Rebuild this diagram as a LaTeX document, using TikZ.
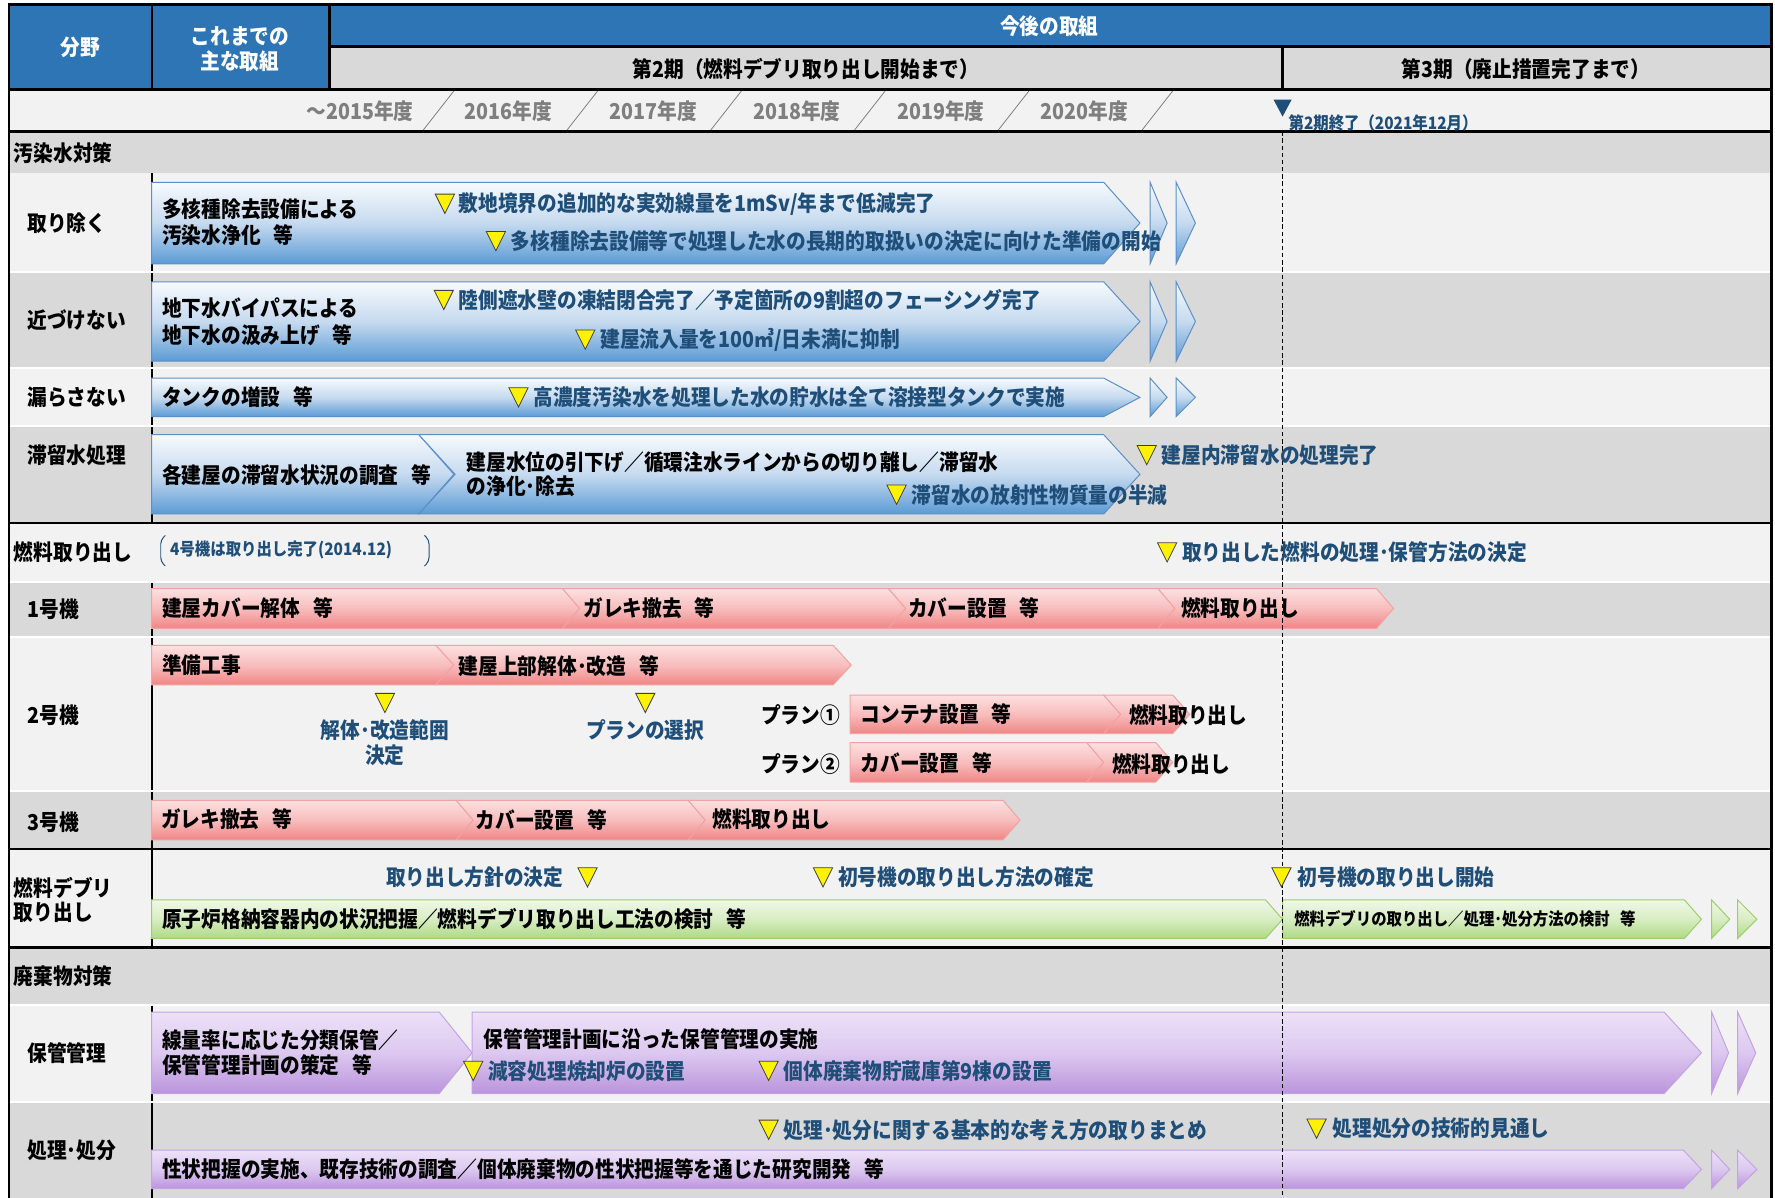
\documentclass[tikz,border=0pt]{standalone}
\usepackage{fontspec}
\setmainfont{Noto Sans CJK JP}[FakeStretch=0.9]
\usetikzlibrary{calc}
\definecolor{hdrblue}{HTML}{2E75B6}
\definecolor{grayrow}{HTML}{D9D9D9}
\definecolor{lightrow}{HTML}{F2F2F2}
\definecolor{msblue}{HTML}{1F4E79}
\definecolor{yeargray}{HTML}{7F7F7F}
\definecolor{bluetop}{HTML}{F7FAFD}
\definecolor{bluemid}{HTML}{C6DAEF}
\definecolor{bluebot}{HTML}{5B9BD5}
\definecolor{blueline}{HTML}{5B8FC8}
\definecolor{redtop}{HTML}{FCE0E0}
\definecolor{redmid}{HTML}{F8BDBD}
\definecolor{redbot}{HTML}{F08585}
\definecolor{redline}{HTML}{F2A2A2}
\definecolor{greentop}{HTML}{EFF8E7}
\definecolor{greenmid}{HTML}{D8EDC3}
\definecolor{greenbot}{HTML}{AEDA84}
\definecolor{greenline}{HTML}{9CCF6C}
\definecolor{purptop}{HTML}{EDE1F8}
\definecolor{purpmid}{HTML}{DCC8F0}
\definecolor{purpbot}{HTML}{BB94DC}
\definecolor{purpline}{HTML}{C3A3E3}
\newcommand{\pentbar}[6]{\shadedraw[#1] (#2,#5) -- (#3,#5) -- (#4,{(#5+#6)/2}) -- (#3,#6) -- (#2,#6) -- cycle;}
\newcommand{\chevbar}[6]{\shadedraw[#1] (#2,#5) -- (#3,#5) -- (#4,{(#5+#6)/2}) -- (#3,#6) -- (#2,#6) -- ({#2+#4-#3},{(#5+#6)/2}) -- cycle;}
\newcommand{\tribar}[5]{\shadedraw[#1] (#2,#4) -- (#3,{(#4+#5)/2}) -- (#2,#5) -- cycle;}
\newcommand{\gsp}{\hspace{0.6em}}
\tikzset{
  txt/.style={anchor=west, inner sep=0pt, font=\bfseries\fontsize{11}{12.5}\selectfont},
  bartxt/.style={txt, text=black},
  mstxt/.style={txt, text=msblue},
  hdr/.style={inner sep=0pt, font=\bfseries\fontsize{11}{12.5}\selectfont, text=white, align=center},
  hdrk/.style={hdr, text=black},
  yrtxt/.style={inner sep=0pt, font=\bfseries\fontsize{11}{12.5}\selectfont, text=yeargray},
  smalltxt/.style={txt, font=\bfseries\fontsize{8.6}{10}\selectfont},
  bluebar/.style={top color=bluetop, bottom color=bluebot, middle color=bluemid, draw=blueline, line width=0.5pt},
  redbar/.style={top color=redtop, bottom color=redbot, middle color=redmid, draw=redline, line width=0.5pt},
  greenbar/.style={top color=greentop, bottom color=greenbot, middle color=greenmid, draw=greenline, line width=0.5pt},
  purpbar/.style={top color=purptop, bottom color=purpbot, middle color=purpmid, draw=purpline, line width=0.5pt},
  thick line/.style={line width=1.4pt, black},
  vline/.style={line width=1.1pt, black},
  pics/ytri/.style={code={\draw[fill=yellow, draw=black!75, line width=0.4pt] (-8.5,-8.5) -- (8.5,-8.5) -- (0,8.5) -- cycle;}},
}
\begin{document}
\begin{tikzpicture}[x=0.02cm, y=-0.02cm]
\useasboundingbox (0,0) rectangle (1568,1058);
\fill[white] (0,0) rectangle (1568,1058);
% ---------- header ----------
\fill[hdrblue] (8,4) rectangle (1565,41);
\fill[hdrblue] (8,41) rectangle (291,79);
\fill[grayrow] (291,41) rectangle (1565,79);
\fill[lightrow] (8,79) rectangle (1565,116);
% ---------- row backgrounds ----------
\fill[grayrow] (8,116) rectangle (1565,153);
\fill[lightrow] (8,153) rectangle (1565,239.5);
\fill[grayrow] (8,241.5) rectangle (1565,324);
\fill[lightrow] (8,326) rectangle (1565,375);
\fill[grayrow] (8,377) rectangle (1565,462);
\fill[lightrow] (8,462) rectangle (1565,513);
\fill[grayrow] (8,515) rectangle (1565,562);
\fill[lightrow] (8,564) rectangle (1565,698);
\fill[grayrow] (8,700) rectangle (1565,750);
\fill[lightrow] (8,750) rectangle (1565,837);
\fill[grayrow] (8,837) rectangle (1565,886.5);
\fill[lightrow] (8,888.5) rectangle (1565,972.5);
\fill[grayrow] (8,974.5) rectangle (1565,1058);
% ---------- header lines ----------
\draw[vline] (291,41) -- (1565,41);
\draw[vline] (134,4) -- (134,79);
\draw[vline] (291,4) -- (291,79);
\draw[vline] (1133,41) -- (1133,79);
% year slashes
\foreach \i in {0,...,5}{
  \draw[yeargray, line width=0.4pt] ({373+127*\i},116) -- ({402+127*\i},79);
}
% ---------- column line ----------
\foreach \a/\b in {153/239.5, 241.5/324, 326/375, 377/462, 515/562, 564/698, 700/750, 750/837, 888.5/972.5, 974.5/1058}{
  \draw[vline] (134,\a) -- (134,\b);
}
% ---------- blue bars ----------
\pentbar{bluebar}{134}{975}{1007}{161}{233}
\tribar{bluebar}{1016}{1031}{161}{233}
\tribar{bluebar}{1039}{1056}{161}{233}
\pentbar{bluebar}{134}{975}{1007}{249}{319}
\tribar{bluebar}{1016}{1031}{249}{319}
\tribar{bluebar}{1039}{1056}{249}{319}
\pentbar{bluebar}{134}{975}{1007}{334}{368}
\tribar{bluebar}{1016}{1031}{334}{368}
\tribar{bluebar}{1039}{1056}{334}{368}
\pentbar{bluebar}{134}{370}{401}{384}{454}
\chevbar{bluebar}{370}{975}{1007}{384}{454}
% ---------- red bars ----------
\pentbar{redbar}{134}{497}{512}{520}{555}
\chevbar{redbar}{497}{785}{800}{520}{555}
\chevbar{redbar}{785}{1023}{1038}{520}{555}
\chevbar{redbar}{1023}{1216}{1231}{520}{555}
\pentbar{redbar}{134}{385}{401}{570}{605}
\chevbar{redbar}{385}{736}{752}{570}{605}
\pentbar{redbar}{751}{975}{990}{614}{648}
\chevbar{redbar}{975}{1036}{1051}{614}{648}
\pentbar{redbar}{751}{960}{975}{656}{691}
\chevbar{redbar}{960}{1021}{1036}{656}{691}
\pentbar{redbar}{134}{403}{418}{707}{742}
\chevbar{redbar}{403}{608}{623}{707}{742}
\chevbar{redbar}{608}{886}{901}{707}{742}
% ---------- green bars ----------
\pentbar{greenbar}{134}{1118}{1133}{795}{829}
\pentbar{greenbar}{1133}{1488}{1503}{795}{829}
\tribar{greenbar}{1512}{1528}{795}{829}
\tribar{greenbar}{1535}{1552}{795}{829}
% ---------- purple bars ----------
\pentbar{purpbar}{134}{388}{417}{894}{966}
\pentbar{purpbar}{417}{1470}{1503}{894}{966}
\tribar{purpbar}{1512}{1527}{894}{966}
\tribar{purpbar}{1535}{1551}{894}{966}
\pentbar{purpbar}{134}{1487}{1503}{1016}{1050}
\tribar{purpbar}{1512}{1528}{1016}{1050}
\tribar{purpbar}{1535}{1552}{1016}{1050}
% ---------- thick lines ----------
\draw[thick line] (8,79) -- (1565,79);
\draw[thick line] (8,116) -- (1565,116);
\draw[thick line] (8,462) -- (1565,462);
\draw[thick line] (8,750) -- (1565,750);
\draw[thick line] (8,837) -- (1565,837);
\draw[thick line] (8,1058) -- (8,4) -- (1565,4) -- (1565,1058);
% ---------- dashed period line ----------
\coordinate (dtop) at (1133,116);
\coordinate (dbot) at (1133,1058);
\draw[black, line width=0.5pt, dash pattern=on 2.2pt off 1.4pt] (dtop) -- (dbot);
% ---------- header texts ----------
\node[hdr] (bunya) at (71,42) {分野};
\node[hdr] (kore) at (212,43) {これまでの\\主な取組};
\node[hdr] (kongo) at (927,23) {今後の取組};
\node[hdrk] (ki2) at (712,61) {第2期（燃料デブリ取り出し開始まで）};
\node[hdrk] (ki3) at (1348,61) {第3期（廃止措置完了まで）};
\node[yrtxt] (y15) at (318,98) {～2015年度};
\node[yrtxt] (y16) at (449,98) {2016年度};
\node[yrtxt] (y17) at (577,98) {2017年度};
\node[yrtxt] (y18) at (704,98) {2018年度};
\node[yrtxt] (y19) at (831,98) {2019年度};
\node[yrtxt] (y20) at (958,98) {2020年度};
\fill[msblue] (1125,88) -- (1141,88) -- (1133,103) -- cycle;
\node[smalltxt, text=msblue] (end2) at (1138,109) {第2期終了（2021年12月）};
% ---------- 汚染水対策 ----------
\node[bartxt] (osen) at (12,135) {汚染水対策};
\node[bartxt] (torinozoku) at (24,197) {取り除く};
\node[bartxt] (chikazuke) at (24,283) {近づけない};
\node[bartxt] (morasa) at (24,351) {漏らさない};
\node[bartxt] (tairyu) at (24,402) {滞留水処理};
\node[bartxt] (b1a) at (143,185) {多核種除去設備による};
\node[bartxt] (b1b) at (143,208) {汚染水浄化\gsp 等};
\pic at (393,180) {ytri};
\node[mstxt] (m1) at (405,180) {敷地境界の追加的な実効線量を1mSv/年まで低減完了};
\pic at (438,213) {ytri};
\node[mstxt] (m2) at (451,213) {多核種除去設備等で処理した水の長期的取扱いの決定に向けた準備の開始};
\node[bartxt] (b2a) at (143,272) {地下水バイパスによる};
\node[bartxt] (b2b) at (143,296) {地下水の汲み上げ\gsp 等};
\pic at (392,265) {ytri};
\node[mstxt] (m3) at (405,265) {陸側遮水壁の凍結閉合完了／予定箇所の9割超のフェーシング完了};
\pic at (517,300) {ytri};
\node[mstxt] (m4) at (530,300) {建屋流入量を100㎥/日未満に抑制};
\node[bartxt] (b3) at (143,351) {タンクの増設\gsp 等};
\pic at (458,351) {ytri};
\node[mstxt] (m5) at (471,351) {高濃度汚染水を処理した水の貯水は全て溶接型タンクで実施};
\node[bartxt] (b4a) at (143,420) {各建屋の滞留水状況の調査\gsp 等};
\node[bartxt] (b4b) at (412,408) {建屋水位の引下げ／循環注水ラインからの切り離し／滞留水};
\node[bartxt] (b4c) at (412,430) {の浄化･除去};
\pic at (792,437) {ytri};
\node[mstxt] (m6) at (805,437) {滞留水の放射性物質量の半減};
\pic at (1013,402) {ytri};
\node[mstxt] (m7) at (1026,402) {建屋内滞留水の処理完了};
% ---------- 燃料取り出し ----------
\node[bartxt] (nenryo) at (12,488) {燃料取り出し};
\draw[msblue, line width=0.5pt, rounded corners=2pt] (146,473) -- (142,477) -- (142,496) -- (146,500);
\draw[msblue, line width=0.5pt, rounded corners=2pt] (375,473) -- (379,477) -- (379,496) -- (375,500);
\node[smalltxt, text=msblue] (go4) at (150,486) {4号機は取り出し完了(2014.12)};
\pic at (1031,488) {ytri};
\node[mstxt] (m8) at (1044,488) {取り出した燃料の処理･保管方法の決定};
\node[bartxt] (u1) at (24,538) {1号機};
\node[bartxt] (r1a) at (143,537) {建屋カバー解体\gsp 等};
\node[bartxt] (r1b) at (515,537) {ガレキ撤去\gsp 等};
\node[bartxt] (r1c) at (802,537) {カバー設置\gsp 等};
\node[bartxt] (r1d) at (1043,537) {燃料取り出し};
\node[bartxt] (u2) at (24,632) {2号機};
\node[bartxt] (r2a) at (143,588) {準備工事};
\node[bartxt] (r2b) at (405,588) {建屋上部解体･改造\gsp 等};
\pic at (340,621) {ytri};
\node[mstxt, anchor=center, align=center] (m9) at (340,656) {解体･改造範囲\\決定};
\pic at (570,621) {ytri};
\node[mstxt, anchor=center] (m10) at (570,645) {プランの選択};
\node[bartxt] (plan1) at (672,632) {プラン①};
\node[bartxt] (plan2) at (672,675) {プラン②};
\node[bartxt] (r2c) at (760,631) {コンテナ設置\gsp 等};
\node[bartxt] (r2d) at (997,632) {燃料取り出し};
\node[bartxt] (r2e) at (760,674) {カバー設置\gsp 等};
\node[bartxt] (r2f) at (982,675) {燃料取り出し};
\node[bartxt] (u3) at (24,726) {3号機};
\node[bartxt] (r3a) at (142,724) {ガレキ撤去\gsp 等};
\node[bartxt] (r3b) at (420,724) {カバー設置\gsp 等};
\node[bartxt] (r3c) at (629,724) {燃料取り出し};
% ---------- 燃料デブリ ----------
\node[bartxt, align=left] (debri) at (12,795) {燃料デブリ\\取り出し};
\node[mstxt, anchor=east] (m11) at (498,775) {取り出し方針の決定};
\pic at (519,775) {ytri};
\pic at (727,775) {ytri};
\node[mstxt] (m12) at (740,775) {初号機の取り出し方法の確定};
\pic at (1132,775) {ytri};
\node[mstxt] (m13) at (1146,775) {初号機の取り出し開始};
\node[bartxt] (g1) at (143,812) {原子炉格納容器内の状況把握／燃料デブリ取り出し工法の検討\gsp 等};
\node[smalltxt] (g2) at (1143,812) {燃料デブリの取り出し／処理･処分方法の検討\gsp 等};
% ---------- 廃棄物対策 ----------
\node[bartxt] (haiki) at (12,862) {廃棄物対策};
\node[bartxt] (hokan) at (24,930) {保管管理};
\node[bartxt, align=left] (p1) at (143,930) {線量率に応じた分類保管／\\保管管理計画の策定\gsp 等};
\node[bartxt] (p2) at (427,918) {保管管理計画に沿った保管管理の実施};
\pic at (418,946) {ytri};
\node[mstxt] (m14) at (431,946) {減容処理焼却炉の設置};
\pic at (679,946) {ytri};
\node[mstxt] (m15) at (692,946) {個体廃棄物貯蔵庫第9棟の設置};
\node[bartxt] (shori) at (24,1016) {処理･処分};
\pic at (679,998) {ytri};
\node[mstxt] (m16) at (692,998) {処理･処分に関する基本的な考え方の取りまとめ};
\pic at (1163,997) {ytri};
\node[mstxt] (m17) at (1177,997) {処理処分の技術的見通し};
\node[bartxt] (p3) at (143,1033) {性状把握の実施、既存技術の調査／個体廃棄物の性状把握等を通じた研究開発\gsp 等};
\end{tikzpicture}
\end{document}
